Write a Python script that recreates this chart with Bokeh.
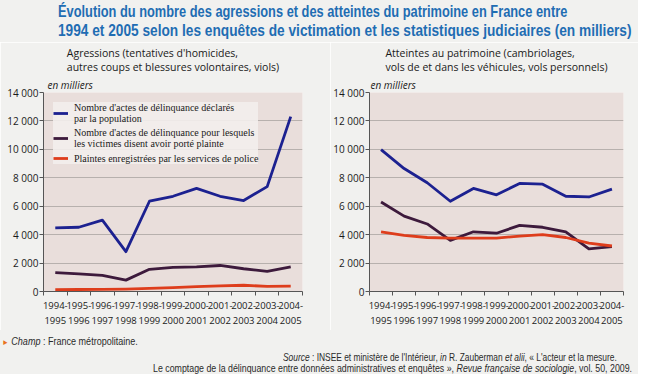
from bokeh.plotting import figure
from bokeh.layouts import column, row
from bokeh.models import Div, FixedTicker, Legend, LegendItem, Range1d, Title
from bokeh.embed import file_html
from bokeh.resources import INLINE

periods = ["1994-\n1995", "1995-\n1996", "1996-\n1997", "1997-\n1998", "1998-\n1999",
           "1999-\n2000", "2000-\n2001", "2001-\n2002", "2002-\n2003", "2003-\n2004",
           "2004-\n2005"]

# Agressions (en milliers)
agr_declares = [4480, 4520, 5020, 2800, 6350, 6700, 7250, 6700, 6400, 7380, 12300]
agr_plainte_victimes = [1330, 1240, 1140, 800, 1560, 1700, 1730, 1830, 1600, 1420, 1730]
agr_police = [130, 140, 150, 170, 220, 270, 350, 400, 440, 360, 380]

# Atteintes au patrimoine (en milliers)
pat_declares = [9980, 8650, 7650, 6350, 7250, 6800, 7600, 7550, 6700, 6650, 7200]
pat_plainte_victimes = [6300, 5300, 4750, 3600, 4200, 4100, 4650, 4520, 4200, 3000, 3150]
pat_police = [4200, 3950, 3800, 3750, 3750, 3750, 3900, 4000, 3800, 3400, 3200]

series_names = ["Nombre d'actes de délinquance déclarés\npar la population",
                "Nombre d'actes de délinquance pour lesquels\nles victimes disent avoir porté plainte",
                "Plaintes enregistrées par les services de police"]
series_colors = ["#1c2190", "#3d1a3c", "#de3d1c"]

y_ticks = [0, 2000, 4000, 6000, 8000, 10000, 12000, 14000]
y_tick_labels = ["0", "2 000", "4 000", "6 000", "8 000", "10 000", "12 000", "14 000"]

PAGE_BG = "#f1f1ef"
PLOT_BG = "#e9dedb"
FONT = "Open Sans"
NARROW = "Liberation Sans Narrow"


def make_panel(title, data, width, min_left, min_right, unit_offset, legend):
    xs = [i + 0.5 for i in range(len(periods))]
    p = figure(width=width, height=288, output_backend="svg", toolbar_location=None,
               x_range=Range1d(0, len(periods)), y_range=Range1d(0, 14000),
               min_border_left=min_left, min_border_right=min_right,
               min_border_top=47, min_border_bottom=35,
               background_fill_color=PLOT_BG, border_fill_color=PAGE_BG,
               outline_line_color=None, margin=(0, 0, 0, 0))
    p.title = None
    unit = Title(text="en milliers", align="left", offset=unit_offset, text_font=FONT,
                 text_font_size="10px", text_font_style="italic", text_color="#1a1a1a",
                 standoff=1)
    p.add_layout(unit, "above")
    t = Title(text=title, align="center", text_font=FONT, text_font_size="10.5px",
              text_font_style="normal", text_color="#1a1a1a", standoff=2,
              text_line_height=1.05)
    p.add_layout(t, "above")

    renderers = []
    for vals, col in zip(data, series_colors):
        r = p.line(xs, vals, line_color=col, line_width=2.8, line_join="round")
        renderers.append(r)

    # axes
    p.xaxis.ticker = FixedTicker(ticks=xs, minor_ticks=list(range(len(periods) + 1)))
    p.xaxis.major_label_overrides = {x: lab for x, lab in zip(xs, periods)}
    p.xaxis.major_tick_out = 0
    p.xaxis.major_tick_in = 0
    p.xaxis.minor_tick_out = 4
    p.xaxis.minor_tick_in = 0
    p.xaxis.major_label_standoff = 3
    p.xaxis.major_label_text_font = FONT
    p.xaxis.major_label_text_font_size = "9.5px"
    p.xaxis.major_label_text_color = "#1a1a1a"
    p.xaxis.axis_line_color = "#555555"
    p.xaxis.minor_tick_line_color = "#555555"

    p.yaxis.ticker = FixedTicker(ticks=y_ticks)
    p.yaxis.major_label_overrides = {v: lab for v, lab in zip(y_ticks, y_tick_labels)}
    p.yaxis.major_tick_out = 4
    p.yaxis.major_tick_in = 0
    p.yaxis.minor_tick_line_color = None
    p.yaxis.major_label_standoff = 1
    p.yaxis.major_label_text_font = FONT
    p.yaxis.major_label_text_font_size = "10px"
    p.yaxis.major_label_text_color = "#1a1a1a"
    p.yaxis.axis_line_color = "#555555"
    p.yaxis.major_tick_line_color = "#555555"

    p.xgrid.grid_line_color = None
    p.ygrid.ticker = FixedTicker(ticks=y_ticks)
    p.ygrid.grid_line_color = "#b7b0ad"
    p.ygrid.grid_line_width = 1

    if legend:
        lg = Legend(items=[LegendItem(label=n, renderers=[r]) for n, r in zip(series_names, renderers)],
                    location="top_left", margin=10, padding=6, spacing=3,
                    label_text_font=NARROW, label_text_font_size="10px",
                    label_text_color="#1a1a1a", label_standoff=6,
                    glyph_width=15, glyph_height=12, label_height=12,
                    background_fill_color="#f3eeec", background_fill_alpha=0.9,
                    border_line_color=None)
        p.add_layout(lg, "center")
    return p


p1 = make_panel("Agressions (tentatives d'homicides,\nautres coups et blessures volontaires, viols)",
                [agr_declares, agr_plainte_victimes, agr_police], 330, 43, 28, 4, True)
p2 = make_panel("Atteintes au patrimoine (cambriolages,\nvols de et dans les véhicules, vols personnels)",
                [pat_declares, pat_plainte_victimes, pat_police], 308, 38, 15, 1, False)

tstyle = ("font-family:'Liberation Sans',Arial,sans-serif;font-weight:bold;font-size:17px;"
          "color:#1f6db3;line-height:19px;white-space:nowrap;margin-left:58px;"
          "transform-origin:0 0;")
title_html = (
    "<div style=\"width:638px;height:42px;overflow:hidden;padding-top:2px;box-sizing:border-box;\">"
    "<div style=\"" + tstyle + "transform:scaleX(0.754);\">"
    "Évolution du nombre des agressions et des atteintes du patrimoine en France entre</div>"
    "<div style=\"" + tstyle + "transform:scaleX(0.805);\">"
    "1994 et 2005 selon les enquêtes de victimation et les statistiques judiciaires (en milliers)</div>"
    "</div>")
title_div = Div(text=title_html, width=638, height=42, margin=(0, 0, 0, 0),
                styles={"background-color": PAGE_BG})

fstyle = ("font-family:'Liberation Sans',Arial,sans-serif;font-size:10.5px;color:#2a2a2a;"
          "white-space:nowrap;transform-origin:0 0;")
footer_html = (
    "<div style=\"width:638px;height:44px;overflow:hidden;\">"
    "<div style=\"" + fstyle + "line-height:12px;transform:scaleX(0.86);margin-top:5px;margin-left:2px;\">"
    "<span style=\"color:#e8731c;font-size:8px;\">&#9658;</span> "
    "<i>Champ</i> : France métropolitaine.</div>"
    "<div style=\"" + fstyle + "line-height:11px;transform:scaleX(0.80);margin-top:3px;margin-left:283px;\">"
    "<i>Source</i> : INSEE et ministère de l'Intérieur, <i>in</i> R. Zauberman <i>et alii</i>, "
    "«&nbsp;L'acteur et la mesure.</div>"
    "<div style=\"" + fstyle + "line-height:11px;transform:scaleX(0.84);margin-left:153px;\">"
    "Le comptage de la délinquance entre données administratives et enquêtes&nbsp;», "
    "<i>Revue française de sociologie</i>, vol. 50, 2009.</div>"
    "</div>")
footer_div = Div(text=footer_html, width=638, height=44, margin=(0, 0, 0, 0),
                 styles={"background-color": PAGE_BG})

layout = column(title_div, row(p1, p2, margin=(0, 0, 0, 0)), footer_div, margin=(0, 0, 0, 0))

open("out.html", "w").write(file_html(layout, INLINE))
